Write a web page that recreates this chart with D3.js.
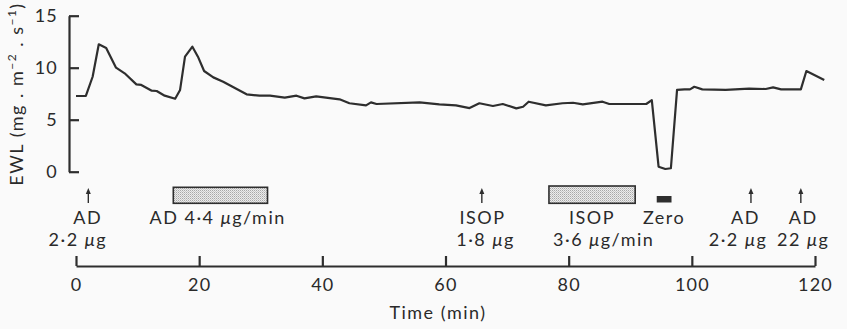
<!DOCTYPE html>
<html><head><meta charset="utf-8">
<script src="https://cdn.jsdelivr.net/npm/d3@7"></script>
<style>
html,body{margin:0;padding:0;background:#fafafa;}
text{font-family:Lato,"Open Sans",sans-serif;fill:#2a2a2a;}
</style></head>
<body><svg id="c" width="847" height="329"></svg>
<script>
// EWL trace (time in min, EWL in mg.m-2.s-1)
const time = [0,1.6,2.7,3.7,4.9,6.5,7.9,9.8,10.6,12.3,13.1,14.4,16.1,16.9,17.7,18.9,19.8,20.8,22.3,23.9,26.1,27.7,29.8,31.5,33.9,35.8,37.1,39.0,42.8,44.4,47.1,47.9,48.8,55.8,59.0,61.7,63.9,65.5,67.7,69.3,71.5,72.6,73.5,76.3,79.0,80.7,82.3,85.5,86.6,92.6,93.5,94.6,95.7,96.6,97.6,98.8,99.7,100.4,101.7,105.5,109.3,112.0,113.2,114.5,117.7,118.6,121.5];
const ewl  = [7.28,7.28,9.13,12.25,11.9,10.0,9.46,8.4,8.34,7.79,7.76,7.31,7.02,7.86,11.06,12.02,11.06,9.68,9.07,8.65,7.95,7.44,7.31,7.31,7.12,7.31,7.05,7.25,6.96,6.58,6.38,6.67,6.51,6.67,6.48,6.38,6.12,6.58,6.32,6.51,6.09,6.25,6.73,6.38,6.58,6.63,6.48,6.73,6.51,6.51,6.89,0.48,0.26,0.33,7.86,7.92,7.92,8.17,7.92,7.86,7.98,7.95,8.11,7.92,7.92,9.68,8.82];
const xTicks = [0,20,40,60,80,100,120];
const yTicks = [0,5,10,15];
// bolus injections (arrows)
const arrowTimes = [2.0,65.9,109.6,117.7];
// infusions (stippled bars)
const infStart = [15.8,76.8];
const infEnd   = [31.1,90.8];
// zero period
const zeroStart = [94.3], zeroEnd = [96.7];
// annotation text: time centre, row, text, unit
const labelT    = [1.9,0.3,23.0,66.0,66.5,83.8,85.7,95.5,108.7,107.5,118.1,118.1];
const labelRow  = [0,1,0,0,1,0,1,0,0,1,0,1];
const labelPre  = ["AD","2·2 ","AD 4·4 ","ISOP","1·8 ","ISOP","3·6 ","Zero","AD","2·2 ","AD","22 "];
const labelUnit = ["","g","g/min","","g","","g/min","","","g","","g"];

const svg = d3.select("#c");
const x = d3.scaleLinear().domain([0,120]).range([76,815]);
const y = d3.scaleLinear().domain([0,15]).range([171.7,15.7]);
const ink = "#2e2e2e";
const FS = 18, LS = 1.5;

const defs = svg.append("defs");
const pat = defs.append("pattern").attr("id","stip").attr("width",2).attr("height",2).attr("patternUnits","userSpaceOnUse");
pat.append("rect").attr("width",2).attr("height",2).attr("fill","#ececec");
pat.append("rect").attr("width",1).attr("height",1).attr("fill","#a8a8a8");
pat.append("rect").attr("x",1).attr("y",1).attr("width",1).attr("height",1).attr("fill","#c8c8c8");

// y axis
const ya = svg.append("g").attr("transform","translate(69,0)")
  .call(d3.axisLeft(y).tickValues(yTicks).tickSize(-10).tickSizeOuter(0).tickPadding(11));
ya.selectAll("path,line").attr("stroke",ink).attr("stroke-width",2.2);
ya.selectAll("text").attr("font-size",FS).attr("font-family","Lato").attr("fill","#2a2a2a").attr("letter-spacing",1.2);

// x axis
const xa = svg.append("g").attr("transform","translate(0,266)")
  .call(d3.axisBottom(x).tickValues(xTicks).tickSize(-10).tickSizeOuter(0).tickPadding(12));
xa.selectAll("path,line").attr("stroke",ink).attr("stroke-width",2.2);
xa.selectAll("text").attr("font-size",FS).attr("font-family","Lato").attr("fill","#2a2a2a").attr("letter-spacing",1.2);

// axis titles
svg.append("text").attr("x",438).attr("y",319).attr("text-anchor","middle").attr("font-size",FS).attr("letter-spacing",LS).text("Time (min)");
const yl = svg.append("text").attr("transform","translate(23,94) rotate(-90)").attr("text-anchor","middle").attr("font-size",18).attr("letter-spacing",LS);
yl.append("tspan").text("EWL (mg . m");
yl.append("tspan").attr("font-size",12).attr("dy",-7).text("−2");
yl.append("tspan").attr("dy",7).text(" . s");
yl.append("tspan").attr("font-size",12).attr("dy",-7).text("−1");
yl.append("tspan").attr("dy",7).text(")");

// trace
const pts = time.map((t,i)=>[t,ewl[i]]);
svg.append("path").datum(pts)
  .attr("d", d3.line().x(d=>x(d[0])).y(d=>y(d[1])))
  .attr("fill","none").attr("stroke",ink).attr("stroke-width",2.2).attr("stroke-linejoin","round");

// arrows
arrowTimes.forEach(t=>{
  const g = svg.append("g");
  g.append("line").attr("x1",x(t)).attr("x2",x(t)).attr("y1",192).attr("y2",203).attr("stroke",ink).attr("stroke-width",1.4);
  g.append("path").attr("d",`M${x(t)-2.5},${194}L${x(t)},${188}L${x(t)+2.5},${194}Z`).attr("fill",ink);
});
// infusion bars
infStart.forEach((s,i)=>{
  svg.append("rect").attr("x",x(s)).attr("width",x(infEnd[i])-x(s))
    .attr("y",i===0?187.3:186).attr("height",i===0?16:17.3)
    .attr("fill","url(#stip)").attr("stroke",ink).attr("stroke-width",1.6);
});
// zero bar
zeroStart.forEach((s,i)=>{
  svg.append("rect").attr("x",x(s)).attr("width",x(zeroEnd[i])-x(s)).attr("y",196).attr("height",6.5).attr("fill",ink);
});
// labels
labelT.forEach((t,i)=>{
  const tx = svg.append("text").attr("x",x(t)).attr("y",labelRow[i]===0?223.5:246)
    .attr("text-anchor","middle").attr("font-size",FS).attr("letter-spacing",LS);
  tx.append("tspan").text(labelPre[i]);
  if(labelUnit[i]){
    tx.append("tspan").attr("font-style","italic").text("μ");
    tx.append("tspan").text(labelUnit[i]);
  }
});
</script></body></html>
